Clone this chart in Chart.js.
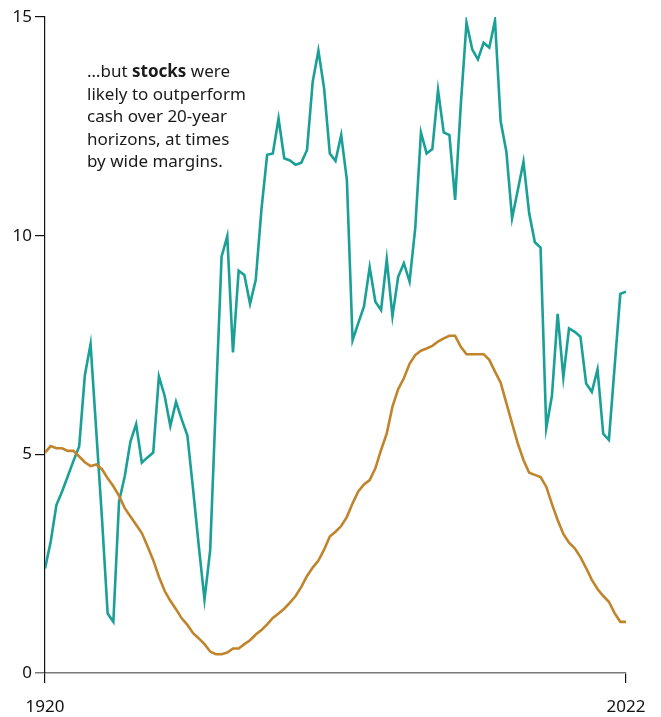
<!DOCTYPE html>
<html>
<head>
<meta charset="utf-8">
<script src="https://cdn.jsdelivr.net/npm/chart.js@4.4.1/dist/chart.umd.min.js"></script>
<style>
  html, body { margin: 0; padding: 0; background: #fff; }
  #wrap { position: relative; width: 661px; height: 717px; }
  #note { position: absolute; left: 87px; top: 60px; font-family: "Noto Sans", Lato, sans-serif;
          font-size: 17px; line-height: 22.5px; color: #1a1a1a; }
</style>
</head>
<body>
<div id="wrap">
  <canvas id="c" width="661" height="717"></canvas>
  <div id="note">…but <b>stocks</b> were<br>likely to outperform<br>cash over 20-year<br>horizons, at times<br>by wide margins.</div>
</div>
<script>
const years = [];
for (let y = 1920; y <= 2022; y++) years.push(y);

const stocks = [
  2.39, 3.0, 3.84, 4.15, 4.5, 4.85, 5.18, 6.81, 7.52, 5.53,
  3.54, 1.36, 1.17, 3.92, 4.5, 5.29, 5.69, 4.81, 4.93, 5.04,
  6.78, 6.34, 5.65, 6.2, 5.8, 5.43, 4.2, 2.9, 1.68, 2.81,
  6.2, 9.52, 9.99, 7.33, 9.2, 9.1, 8.44, 8.99, 10.6, 11.85,
  11.88, 12.68, 11.77, 11.72, 11.62, 11.67, 11.96, 13.52, 14.23, 13.37,
  11.88, 11.71, 12.3, 11.27, 7.61, 8.0, 8.38, 9.28, 8.49, 8.3,
  9.46, 8.16, 9.06, 9.37, 8.95, 10.17, 12.36, 11.88, 11.98, 13.33,
  12.36, 12.3, 10.82, 13.0, 14.87, 14.26, 14.03, 14.41, 14.3, 14.92,
  12.61, 11.92, 10.4, 11.04, 11.69, 10.51, 9.85, 9.73, 5.6, 6.34,
  8.21, 6.76, 7.88, 7.8, 7.69, 6.62, 6.43, 6.94, 5.47, 5.33,
  7.0, 8.67, 8.72
];

const cash = [
  5.04, 5.19, 5.14, 5.14, 5.08, 5.08, 4.95, 4.82, 4.73, 4.77,
  4.66, 4.45, 4.27, 4.05, 3.77, 3.58, 3.39, 3.2, 2.9, 2.58,
  2.2, 1.88, 1.65, 1.46, 1.25, 1.1, 0.91, 0.79, 0.66, 0.49,
  0.43, 0.43, 0.47, 0.56, 0.56, 0.66, 0.75, 0.88, 0.98, 1.11,
  1.26, 1.36, 1.47, 1.61, 1.76, 1.97, 2.22, 2.41, 2.57, 2.82,
  3.12, 3.23, 3.36, 3.57, 3.88, 4.15, 4.31, 4.41, 4.68, 5.1,
  5.48, 6.09, 6.49, 6.74, 7.07, 7.27, 7.37, 7.42, 7.48, 7.58,
  7.65, 7.71, 7.71, 7.46, 7.29, 7.29, 7.29, 7.29, 7.16, 6.89,
  6.64, 6.17, 5.71, 5.25, 4.87, 4.58, 4.53, 4.48, 4.26, 3.86,
  3.5, 3.18, 2.98, 2.85, 2.65, 2.4, 2.13, 1.92, 1.76, 1.63,
  1.37, 1.17, 1.17
];

const yTicks = [0, 5, 10, 15];
const xTicks = [1920, 2022];

const toPts = arr => arr.map((v, i) => ({ x: years[i], y: v }));

const FONT = '"Noto Sans", Lato, sans-serif';

new Chart(document.getElementById('c'), {
  type: 'line',
  data: {
    datasets: [
      { label: 'Cash', data: toPts(cash), borderColor: '#c0842b', borderWidth: 2.6,
        pointRadius: 0, tension: 0, fill: false },
      { label: 'Stocks', data: toPts(stocks), borderColor: '#1aa096', borderWidth: 2.6,
        pointRadius: 0, tension: 0, fill: false }
    ]
  },
  options: {
    responsive: false,
    animation: false,
    events: [],
    layout: { padding: { top: 17, right: 35, left: 0, bottom: 0 } },
    plugins: { legend: { display: false }, tooltip: { enabled: false } },
    scales: {
      x: {
        type: 'linear', min: 1920, max: 2022,
        afterBuildTicks: s => { s.ticks = xTicks.map(v => ({ value: v })); },
        afterFit: s => { s.height = 44; },
        border: { display: true, color: '#7a7a7a', width: 1.5 },
        grid: { drawOnChartArea: false, drawTicks: true, tickLength: 10, color: '#111', lineWidth: 1.2 },
        ticks: { color: '#111', font: { family: FONT, size: 17 }, padding: 14, maxRotation: 0,
                 callback: v => String(v) }
      },
      y: {
        min: 0, max: 15,
        afterBuildTicks: s => { s.ticks = yTicks.map(v => ({ value: v })); },
        afterFit: s => { s.width = 45; },
        border: { display: true, color: '#111', width: 1.2 },
        grid: { drawOnChartArea: false, drawTicks: true, tickLength: 10,
                color: ctx => (ctx.tick && ctx.tick.value === 0) ? '#7a7a7a' : '#111',
                lineWidth: ctx => (ctx.tick && ctx.tick.value === 0) ? 1.5 : 1.2 },
        ticks: { color: '#111', font: { family: FONT, size: 17 }, padding: 3 }
      }
    }
  }
});
</script>
</body>
</html>
